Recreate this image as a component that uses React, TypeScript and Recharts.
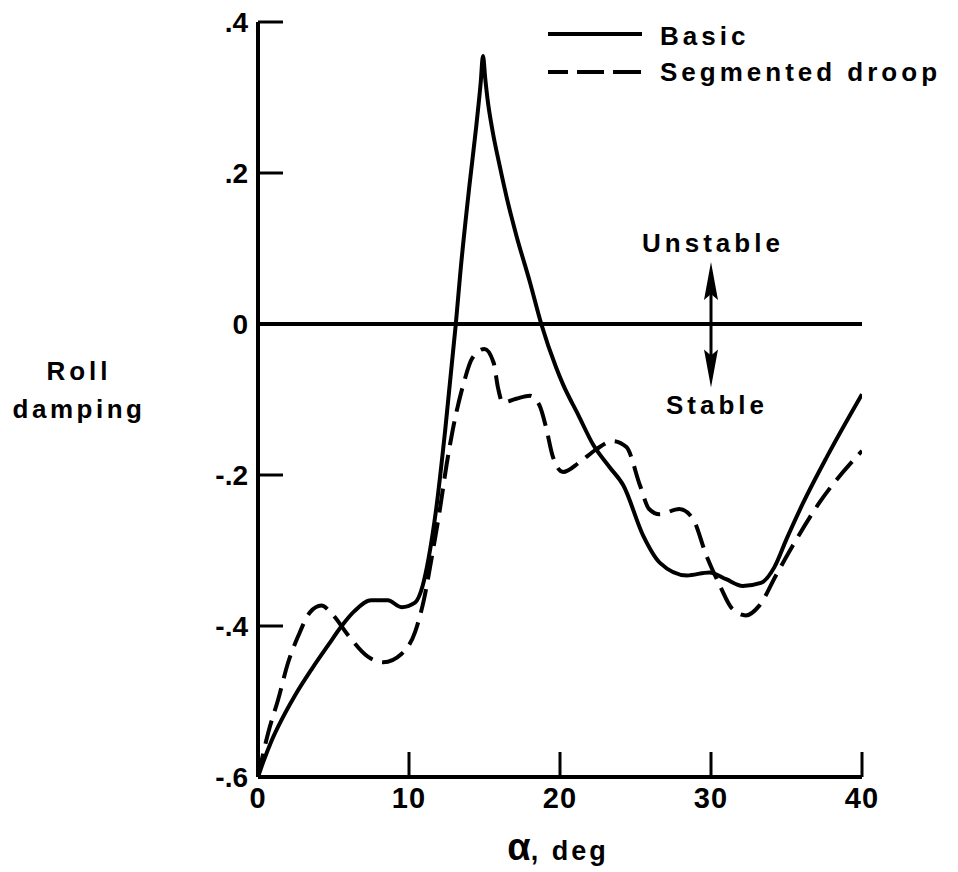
import React from "react";
import { LineChart, Line, XAxis, YAxis, ReferenceLine, Legend } from "recharts";

// ---- data ----
const basicAlpha = [0, 0.35, 0.9, 1.57, 2.45, 3.56, 4.66, 5.54, 6.4, 7.5, 8.6, 9.5, 10.4, 10.9, 11.3, 11.8, 12.4, 13.1, 13.4, 14.0, 14.46, 14.75, 14.9, 15.05, 15.2, 15.55, 16.0, 16.5, 17.1, 18.0, 18.76, 19.75, 20.2, 21.2, 22.2, 23.3, 24.2, 25.5, 26.6, 28.4, 29.9, 31.0, 32.1, 33.3, 34.2, 35.0, 36.1, 37.7, 40.0];
const basicRoll = [-0.6, -0.58, -0.552, -0.524, -0.492, -0.457, -0.425, -0.4, -0.38, -0.366, -0.366, -0.375, -0.369, -0.347, -0.31, -0.245, -0.14, 0.0, 0.068, 0.183, 0.263, 0.32, 0.355, 0.325, 0.298, 0.254, 0.21, 0.165, 0.118, 0.056, 0.0, -0.058, -0.08, -0.12, -0.16, -0.19, -0.214, -0.28, -0.316, -0.333, -0.329, -0.338, -0.347, -0.343, -0.322, -0.285, -0.237, -0.175, -0.093];

const droopAlpha = [0, 0.68, 1.34, 2.0, 2.67, 3.44, 4.2, 4.9, 6.0, 7.3, 8.3, 9.5, 10.4, 11.0, 11.5, 12.05, 12.5, 12.9, 13.6, 14.2, 15.0, 15.6, 15.9, 16.2, 17.1, 18.0, 18.65, 19.1, 19.5, 20.2, 21.3, 22.4, 23.5, 24.4, 25.3, 25.9, 26.6, 27.9, 28.8, 29.7, 30.6, 31.4, 32.3, 33.2, 34.3, 35.4, 37.2, 40.0];
const droopRoll = [-0.6, -0.541, -0.497, -0.448, -0.413, -0.382, -0.373, -0.384, -0.413, -0.441, -0.448, -0.437, -0.408, -0.364, -0.31, -0.245, -0.185, -0.14, -0.08, -0.045, -0.033, -0.051, -0.085, -0.104, -0.099, -0.095, -0.108, -0.139, -0.174, -0.196, -0.183, -0.166, -0.155, -0.163, -0.214, -0.245, -0.252, -0.245, -0.258, -0.307, -0.347, -0.377, -0.386, -0.373, -0.333, -0.294, -0.236, -0.168];

const xTicks = [0, 10, 20, 30, 40];
const yTicks = [-0.6, -0.4, -0.2, 0, 0.2, 0.4];
const seriesNames = ["Basic", "Segmented droop"];
const arrowSpan = [0.082, -0.084];
const arrowAlpha = 30;
const arrowLabels = ["Unstable", "Stable"];
const yLabelLines = ["Roll", "damping"];
const xLabelParts = ["α", ", deg"];

const basicData = basicAlpha.map((a, i) => ({ a, v: basicRoll[i] }));
const droopData = droopAlpha.map((a, i) => ({ a, v: droopRoll[i] }));

const FONT = "'Liberation Sans', Arial, Helvetica, sans-serif";
const DASH = "24 10";

const fmtY = (v: number) => {
  if (Math.abs(v) < 1e-9) return "0";
  const s = Math.abs(v).toFixed(1).replace(/^0/, "");
  return (v < 0 ? "-" : "") + s;
};

const YTick = (props: any) => {
  const { x, y, payload } = props;
  return (
    <g>
      <line x1={x} x2={x + 25} y1={y} y2={y} stroke="#000" strokeWidth={3} />
      <text x={x - 10} y={y} dy={10} textAnchor="end" fontFamily={FONT} fontWeight="bold" fontSize={28} fill="#000">
        {fmtY(payload.value)}
      </text>
    </g>
  );
};

const XTick = (props: any) => {
  const { x, y, payload } = props;
  return (
    <g>
      {payload.value !== 0 && <line x1={x} x2={x} y1={y} y2={y - 25} stroke="#000" strokeWidth={3} />}
      <text x={x} y={y + 31} textAnchor="middle" fontFamily={FONT} fontWeight="bold" fontSize={29} letterSpacing={1} fill="#000">
        {payload.value}
      </text>
    </g>
  );
};

const ArrowShape = (p: any) => {
  const x = p.x1;
  const top = Math.min(p.y1, p.y2);
  const bot = Math.max(p.y1, p.y2);
  const hl = 38;
  const hw = 7;
  return (
    <g>
      <line x1={x} x2={x} y1={top + 10} y2={bot - 10} stroke="#000" strokeWidth={3} />
      <polygon points={`${x},${top} ${x - hw},${top + hl} ${x},${top + hl - 6} ${x + hw},${top + hl}`} fill="#000" />
      <polygon points={`${x},${bot} ${x - hw},${bot - hl} ${x},${bot - hl + 6} ${x + hw},${bot - hl}`} fill="#000" />
      <text x={x + 2} y={top - 10} textAnchor="middle" fontFamily={FONT} fontWeight="bold" fontSize={26} letterSpacing={4} fill="#000">
        {arrowLabels[0]}
      </text>
      <text x={x + 6} y={bot + 27} textAnchor="middle" fontFamily={FONT} fontWeight="bold" fontSize={26} letterSpacing={4} fill="#000">
        {arrowLabels[1]}
      </text>
    </g>
  );
};

const LegendContent = () => (
  <svg width={418} height={95} style={{ display: "block" }}>
    <line x1={8} x2={102} y1={34} y2={34} stroke="#000" strokeWidth={4} />
    <text x={120} y={45} fontFamily={FONT} fontWeight="bold" fontSize={26} letterSpacing={4} fill="#000">
      {seriesNames[0]}
    </text>
    <line x1={8} x2={102} y1={72} y2={72} stroke="#000" strokeWidth={4} strokeDasharray="20 9 27 9 28" />
    <text x={120} y={81} fontFamily={FONT} fontWeight="bold" fontSize={26} letterSpacing={4} fill="#000">
      {seriesNames[1]}
    </text>
  </svg>
);

const YLabel = (props: any) => {
  const vb = props.viewBox || { x: 0, y: 0 };
  return (
    <g>
      <text x={vb.x + 79} y={380} textAnchor="middle" fontFamily={FONT} fontWeight="bold" fontSize={26} letterSpacing={4} fill="#000">
        {yLabelLines[0]}
      </text>
      <text x={vb.x + 79} y={418} textAnchor="middle" fontFamily={FONT} fontWeight="bold" fontSize={26} letterSpacing={3.5} fill="#000">
        {yLabelLines[1]}
      </text>
    </g>
  );
};

const XLabel = (props: any) => {
  const vb = props.viewBox || { x: 0, y: 0, width: 0 };
  return (
    <text x={vb.x + vb.width / 2 - 2} y={vb.y + 83} textAnchor="middle" fontFamily={FONT} fontWeight="bold" fill="#000">
      <tspan fontSize={38}>{xLabelParts[0]}</tspan>
      <tspan fontSize={27} letterSpacing={3}>{xLabelParts[1]}</tspan>
    </text>
  );
};

export default function App() {
  return (
    <div style={{ position: "absolute", left: 0, top: 0, width: 958, height: 872, background: "#fff" }}>
      <LineChart width={958} height={872} margin={{ top: 22, right: 96, bottom: 0, left: 0 }}>
        <XAxis
          type="number"
          dataKey="a"
          domain={[0, 40]}
          ticks={xTicks}
          allowDataOverflow
          height={95}
          tickSize={0}
          tickMargin={0}
          tickLine={false}
          axisLine={{ stroke: "#000", strokeWidth: 4 }}
          tick={<XTick />}
          label={<XLabel />}
        />
        <YAxis
          type="number"
          dataKey="v"
          domain={[-0.6, 0.4]}
          ticks={yTicks}
          allowDataOverflow
          width={258}
          tickSize={0}
          tickMargin={0}
          tickLine={false}
          axisLine={{ stroke: "#000", strokeWidth: 4 }}
          tick={<YTick />}
          label={<YLabel />}
        />
        <ReferenceLine y={0} stroke="#000" strokeWidth={4} />
        <ReferenceLine
          segment={[
            { x: arrowAlpha, y: arrowSpan[0] },
            { x: arrowAlpha, y: arrowSpan[1] },
          ]}
          shape={<ArrowShape />}
        />
        <Legend
          layout="vertical"
          align="center"
          verticalAlign="middle"
          content={<LegendContent />}
          wrapperStyle={{ left: 540, top: 0, width: 418, height: 95 }}
        />
        <Line
          data={basicData}
          dataKey="v"
          name={seriesNames[0]}
          type="monotone"
          stroke="#000"
          strokeWidth={4}
          dot={false}
          activeDot={false}
          isAnimationActive={false}
        />
        <Line
          data={droopData}
          dataKey="v"
          name={seriesNames[1]}
          type="monotone"
          stroke="#000"
          strokeWidth={4}
          strokeDasharray={DASH}
          dot={false}
          activeDot={false}
          isAnimationActive={false}
        />
      </LineChart>
    </div>
  );
}
